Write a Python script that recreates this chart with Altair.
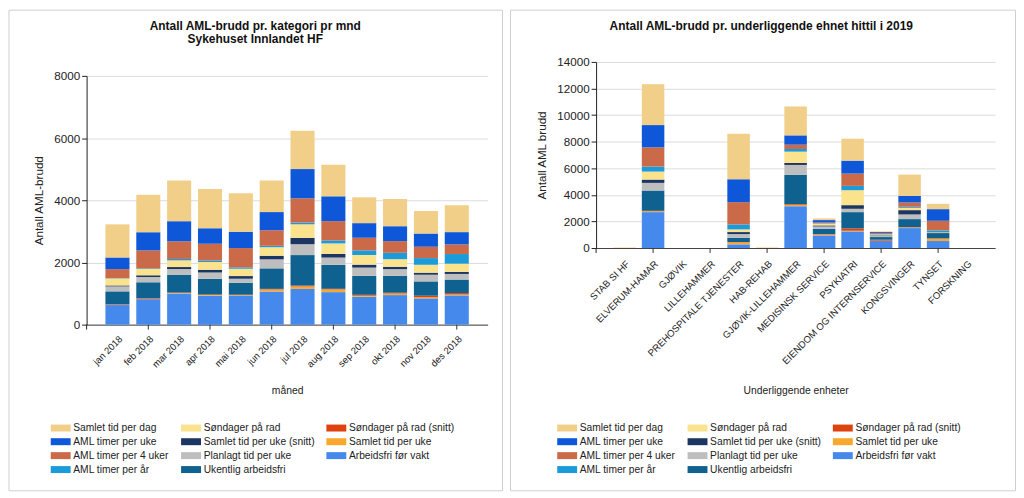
import altair as alt
import pandas as pd

FONT = "Liberation Sans"

# ---------------- data ----------------
months = ["jan 2018", "feb 2018", "mar 2018", "apr 2018", "mai 2018", "jun 2018",
          "jul 2018", "aug 2018", "sep 2018", "okt 2018", "nov 2018", "des 2018"]

units = ["STAB SI HF", "ELVERUM-HAMAR", "GJØVIK", "LILLEHAMMER", "PREHOSPITALE TJENESTER",
         "HAB-REHAB", "GJØVIK-LILLEHAMMER", "MEDISINSK SERVICE", "PSYKIATRI",
         "EIENDOM OG INTERNSERVICE", "KONGSVINGER", "TYNSET", "FORSKNING"]

# stack order, bottom -> top
series_names = ["Arbeidsfri før vakt", "Samlet tid per uke", "Søndager på rad (snitt)",
                "Ukentlig arbeidsfri", "Planlagt tid per uke", "Samlet tid per uke (snitt)",
                "Søndager på rad", "AML timer per år", "AML timer per 4 uker",
                "AML timer per uke", "Samlet tid per dag"]

# monthly values (left chart)
m_arbeidsfri = [630, 820, 1000, 930, 930, 1065, 1150, 1045, 895, 950, 845, 940]
m_samlet_uke = [10, 12, 17, 23, 17, 65, 77, 87, 34, 50, 35, 30]
m_sondager_snitt = [15, 20, 15, 20, 15, 20, 30, 20, 30, 25, 50, 45]
m_ukentlig = [415, 510, 565, 500, 385, 660, 980, 770, 610, 545, 460, 435]
m_planlagt = [160, 170, 190, 205, 130, 290, 350, 235, 265, 215, 215, 180]
m_samlet_uke_snitt = [30, 55, 65, 85, 85, 115, 205, 115, 95, 75, 65, 65]
m_sondager = [225, 205, 215, 255, 235, 275, 435, 340, 310, 245, 255, 265]
m_aml_ar = [10, 20, 45, 45, 45, 45, 55, 95, 150, 205, 215, 310]
m_aml_4uker = [290, 575, 565, 535, 620, 500, 780, 620, 405, 375, 365, 310]
m_aml_uke = [375, 585, 650, 500, 525, 585, 940, 800, 470, 480, 425, 395]
m_samlet_dag = [1065, 1205, 1310, 1260, 1235, 1015, 1235, 1015, 830, 875, 725, 865]

# unit values (right chart)
u_arbeidsfri = [0, 2700, 0, 0, 275, 0, 3150, 950, 1250, 525, 1500, 525, 0]
u_samlet_uke = [10, 70, 0, 0, 150, 15, 100, 75, 50, 25, 50, 175, 0]
u_sondager_snitt = [0, 30, 0, 0, 25, 0, 50, 25, 175, 75, 25, 25, 0]
u_ukentlig = [0, 1525, 0, 0, 325, 0, 2200, 400, 1225, 200, 600, 400, 0]
u_planlagt = [0, 575, 0, 0, 275, 0, 750, 175, 250, 75, 350, 25, 0]
u_samlet_uke_snitt = [0, 250, 0, 0, 150, 0, 150, 75, 275, 50, 325, 25, 0]
u_sondager = [0, 600, 0, 0, 200, 0, 850, 125, 1125, 75, 175, 25, 0]
u_aml_ar = [0, 375, 0, 0, 375, 0, 200, 25, 325, 25, 75, 125, 0]
u_aml_4uker = [0, 1450, 0, 0, 1675, 0, 325, 75, 925, 75, 325, 725, 0]
u_aml_uke = [0, 1675, 0, 0, 1725, 0, 700, 175, 975, 75, 500, 875, 0]
u_samlet_dag = [25, 3075, 0, 0, 3425, 25, 2175, 125, 1650, 50, 1600, 400, 0]

month_series = [m_arbeidsfri, m_samlet_uke, m_sondager_snitt, m_ukentlig, m_planlagt,
                m_samlet_uke_snitt, m_sondager, m_aml_ar, m_aml_4uker, m_aml_uke, m_samlet_dag]
unit_series = [u_arbeidsfri, u_samlet_uke, u_sondager_snitt, u_ukentlig, u_planlagt,
               u_samlet_uke_snitt, u_sondager, u_aml_ar, u_aml_4uker, u_aml_uke, u_samlet_dag]

# legend order (filled column by column, 4 rows)
legend_order = list(reversed(series_names))
colors = {
    "Samlet tid per dag": "#F2CF88",
    "Søndager på rad": "#FBE28C",
    "Søndager på rad (snitt)": "#DE420F",
    "AML timer per uke": "#0E57D9",
    "Samlet tid per uke (snitt)": "#1B3663",
    "Samlet tid per uke": "#F8A82C",
    "AML timer per 4 uker": "#CB6A48",
    "Planlagt tid per uke": "#BEBEBE",
    "Arbeidsfri før vakt": "#4589EC",
    "AML timer per år": "#1C9BDB",
    "Ukentlig arbeidsfri": "#0F618F",
}

title_left_1 = "Antall AML-brudd pr. kategori pr mnd"
title_left_2 = "Sykehuset Innlandet HF"
title_right = "Antall AML-brudd pr. underliggende ehnet hittil i 2019"


def long_df(cats, series_vals):
    rows = []
    for si, (name, vals) in enumerate(zip(series_names, series_vals)):
        for ci, c in enumerate(cats):
            rows.append({"cat": c, "serie": name, "value": vals[ci], "stack": si})
    return pd.DataFrame(rows)


df_left = long_df(months, month_series)
df_right = long_df(units, unit_series)
ticks_left = pd.DataFrame({"cat": [c for i, c in enumerate(months) if i % 2 == 1]})
ticks_right = pd.DataFrame({"cat": [c for i, c in enumerate(units) if i % 2 == 1]})
one = pd.DataFrame({"k": [0]})

SYM = "M-1,-1H4.714V1H-1Z"
color_scale = alt.Scale(domain=legend_order, range=[colors[s] for s in legend_order])


def panel(df, ticks_df, cats, W, H, y_top, ymax, ytitle, xtitle, xtitle_y, label_pad,
          border, legend_xy, titles, pin, pout):
    xax = alt.Axis(title=xtitle, labelAngle=-45, labelFontSize=9.6, labelColor="#222",
                   tickSize=5, tickOpacity=0, labelPadding=label_pad, labelOverlap=False,
                   titleFontSize=10.4, titleFontWeight="normal", titleColor="#222",
                   titleY=xtitle_y, titleBaseline="top", domainColor="#444", grid=False)
    x = alt.X("cat:N", sort=cats, scale=alt.Scale(paddingInner=pin, paddingOuter=pout), axis=xax)
    y = alt.Y("value:Q", stack="zero",
              scale=alt.Scale(domain=[0, ymax], nice=False, range=[H, y_top]),
              axis=alt.Axis(title=ytitle, values=list(range(0, ymax + 1, 2000)), format="d",
                            tickSize=5, tickColor="#222", labelPadding=2, labelFontSize=11.7,
                            labelColor="#222", titleFontSize=11.7, titleFontWeight="normal",
                            titleColor="#222", titlePadding=9, gridColor="#dcdcdc",
                            domainColor="#222"))
    bars = alt.Chart(df).mark_bar().encode(
        x=x, y=y,
        color=alt.Color("serie:N", scale=color_scale, title=None,
                        legend=alt.Legend(orient="none", legendX=legend_xy[0], legendY=legend_xy[1],
                                          columns=3, columnPadding=10, rowPadding=3,
                                          symbolType=SYM, symbolSize=49, symbolStrokeWidth=0,
                                          labelFontSize=10.3, labelOffset=14, labelColor="#222",
                                          padding=0)),
        order=alt.Order("stack:Q", sort="ascending"),
    )
    tick_rules = alt.Chart(ticks_df).mark_rule(color="#333").encode(
        x=alt.X("cat:N", sort=cats, title=xtitle),
        y=alt.value(H), y2=alt.value(H + 5))
    yext = alt.Chart(one).mark_rule(color="#222").encode(
        x=alt.value(0), y=alt.value(H), y2=alt.value(H + 5))
    frame = alt.Chart(one).mark_rect(fill="transparent", stroke="#cfcfcf", strokeWidth=1).encode(
        x=alt.value(border[0]), x2=alt.value(border[1]),
        y=alt.value(border[2]), y2=alt.value(border[3]))
    layers = [frame, bars, tick_rules, yext]
    for (tx, ty, txt) in titles:
        layers.append(alt.Chart(one).mark_text(fontSize=12, fontWeight="bold", align="center",
                                               baseline="alphabetic", color="#111", font=FONT)
                      .encode(x=alt.value(tx), y=alt.value(ty), text=alt.value(txt)))
    return alt.layer(*layers).properties(width=W, height=H)


# both plot origins share page y = 61; the left y scale starts 14 px lower
left = panel(df_left, ticks_left, months, 403, 264, 14, 8000, "Antall AML-brudd", "måned", 61.5, 4,
             (-78, 418, -52, 431), (-37.7, 362.5),
             [(169.5, -32.5, title_left_1), (169.5, -19.5, title_left_2)], 0.22, 0.61)
right = panel(df_right, ticks_right, units, 401, 187, 0, 14000, "Antall AML brudd",
              "Underliggende enheter", 138.5, 5.5,
              (-86, 421.5, -52, 431), (-40.7, 362.5),
              [(166, -32.5, title_right)], 0.21, 0.605)

chart = (alt.concat(left, right, columns=2, spacing=6, align="none")
         .resolve_scale(x="independent", y="independent", color="independent")
         .resolve_legend(color="independent")
         .properties(padding=0, background="white")
         .configure(font=FONT)
         .configure_view(strokeWidth=0))

chart.save("out.html", embed_options={"renderer": "svg", "actions": False})
